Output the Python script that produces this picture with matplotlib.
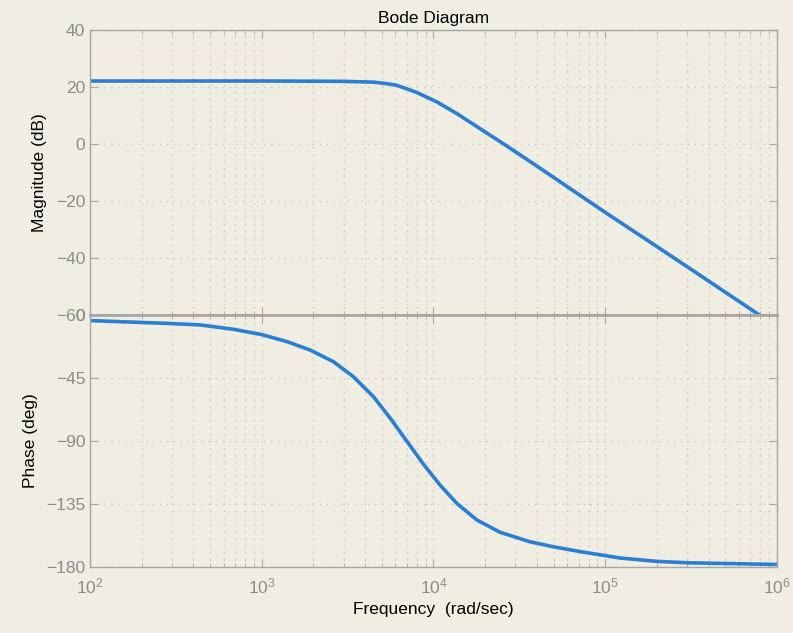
import numpy as np
import matplotlib.pyplot as plt
from matplotlib.ticker import LogLocator, NullFormatter

# frequency response read in rad/sec
mag_w = [1e2, 1e3, 2.86e3, 4.47e3, 5.3e3, 6.11e3, 7.98e3, 1.044e4, 1.365e4,
         1.866e4, 2.55e4, 3.99e4, 1e5, 2e5, 3.24e5, 5e5, 7.9e5]
mag_db = [22.1, 22.1, 22.0, 21.7, 21.2, 20.6, 18.1, 14.8, 10.7,
          5.4, 0.1, -7.7, -24.0, -36.0, -44.4, -52.0, -60.0]

ph_w = [1e2, 2.81e2, 4.37e2, 6.83e2, 1e3, 1.4e3, 1.91e3, 2.61e3, 3.41e3,
        4.465e3, 5.59e3, 6.98e3, 8.73e3, 1.09e4, 1.365e4, 1.786e4, 2.44e4,
        3.65e4, 5e4, 7.13e4, 1.22e5, 2e5, 2.99e5, 1e6]
ph_deg = [-4.0, -6.0, -7.1, -10.2, -14.0, -19.0, -25.0, -33.3, -44.0,
          -58.3, -73.6, -90.0, -106.5, -121.4, -134.5, -146.4, -155.2,
          -162.0, -165.6, -169.0, -173.6, -176.0, -177.0, -178.2]

mag_ticks = [40, 20, 0, -20, -40, -60]
ph_ticks = [0, -45, -90, -135, -180]

bg = '#f0ede3'
line_col = '#2b7fd3'
axis_col = '#a9a6a6'
label_col = '#8c8c8c'
grid_col = '#c9c6bd'

plt.rcParams['font.family'] = ['Liberation Sans', 'DejaVu Sans']

fig = plt.figure(figsize=(7.93, 6.33), dpi=100, facecolor=bg)
ax1 = fig.add_axes([0.1135, 0.5024, 0.8663, 0.4502])
ax2 = fig.add_axes([0.1135, 0.1043, 0.8663, 0.3981])

ax1.plot(mag_w, mag_db, color=line_col, lw=2.6, solid_joinstyle='round')
ax2.plot(ph_w, ph_deg, color=line_col, lw=2.6, solid_joinstyle='round')

for ax in (ax1, ax2):
    ax.set_facecolor(bg)
    ax.set_xscale('log')
    ax.set_xlim(1e2, 1e6)
    ax.xaxis.set_major_locator(LogLocator(base=10, numticks=10))
    ax.xaxis.set_minor_locator(LogLocator(base=10, subs=np.arange(2, 10), numticks=20))
    ax.xaxis.set_minor_formatter(NullFormatter())
    ax.grid(True, which='major', color=grid_col, linestyle=(0, (1, 4)), linewidth=1.0)
    ax.grid(True, which='minor', axis='x', color=grid_col, linestyle=(0, (1, 4)), linewidth=1.0)
    ax.tick_params(which='both', direction='in', top=True, right=True,
                   color=axis_col, labelcolor=label_col, labelsize=12.5)
    ax.tick_params(which='major', length=6)
    ax.tick_params(which='minor', length=3)
    for sp in ax.spines.values():
        sp.set_color(axis_col)
        sp.set_linewidth(1.0)

ax1.set_ylim(-60, 40)
ax1.set_yticks(mag_ticks)
ax1.tick_params(axis='x', labelbottom=False)
ax1.spines['bottom'].set_linewidth(2.0)
ax1.set_ylabel('Magnitude (dB)', fontsize=12.5, labelpad=6)
ax1.set_title('Bode Diagram', fontsize=12.5, pad=5)

ax2.set_ylim(-180, 0)
ax2.set_yticks(ph_ticks)
ax2.spines['top'].set_linewidth(2.0)
ax2.set_ylabel('Phase (deg)', fontsize=12.5, labelpad=6)
ax2.set_xlabel('Frequency  (rad/sec)', fontsize=12.5, labelpad=4)
ax2.tick_params(axis='x', pad=7)

fig.savefig('out.png', dpi=100, facecolor=bg)
